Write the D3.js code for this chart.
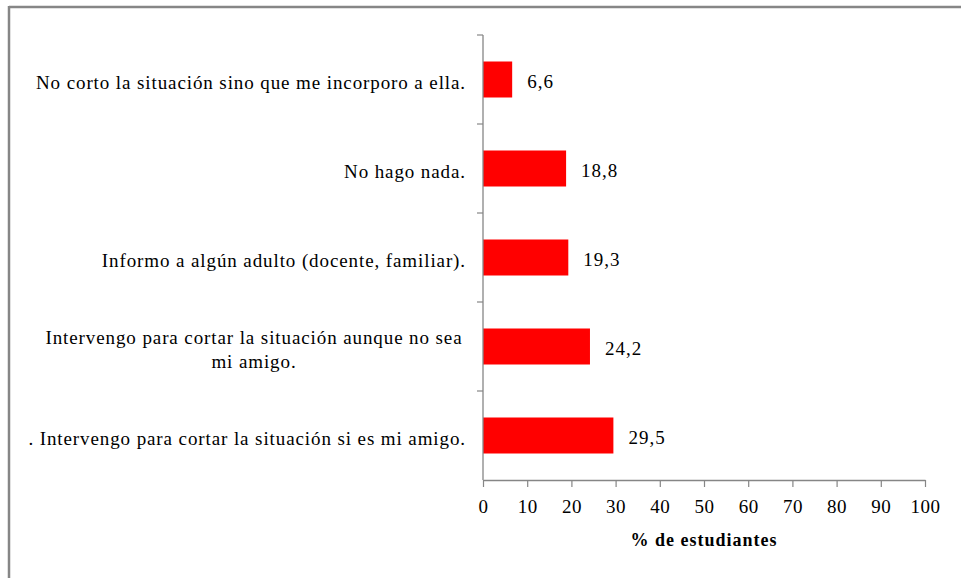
<!DOCTYPE html>
<html>
<head>
<meta charset="utf-8">
<script src="https://cdn.jsdelivr.net/npm/d3@7"></script>
<style>
  body { margin: 0; background: #fff; }
</style>
</head>
<body>
<div id="chart"></div>
<script>
// data (top to bottom)
var categories = [
    ["No corto la situación sino que me incorporo a ella."],
    ["No hago nada."],
    ["Informo a algún adulto (docente, familiar)."],
    ["Intervengo para cortar la situación aunque no sea", "mi amigo."],
    [". Intervengo para cortar la situación si es mi amigo."]
];
var values = [6.6, 18.8, 19.3, 24.2, 29.5];
var xTicks = [0, 10, 20, 30, 40, 50, 60, 70, 80, 90, 100];
var xTitle = "% de estudiantes";

var W = 961, H = 578;
var margin = {top: 35, right: 36, bottom: 98, left: 483};
var serif = "'Liberation Serif', 'Times New Roman', serif";

var svg = d3.select("#chart").append("svg")
    .attr("width", W)
    .attr("height", H);

// outer frame (only top and left edges visible)
svg.append("line").attr("x1", 9).attr("x2", W).attr("y1", 7).attr("y2", 7)
    .attr("stroke", "#868686").attr("stroke-width", 2.5);
svg.append("line").attr("x1", 9).attr("x2", 9).attr("y1", 6).attr("y2", H)
    .attr("stroke", "#868686").attr("stroke-width", 2.5);

var x = d3.scaleLinear().domain([0, 100]).range([margin.left, W - margin.right]);
var y = d3.scaleBand().domain(d3.range(values.length))
    .range([margin.top, H - margin.bottom]);
var barH = 36;

// bars
svg.selectAll("rect.bar")
    .data(values)
    .enter().append("rect")
    .attr("class", "bar")
    .attr("x", x(0))
    .attr("y", function(d, i) { return y(i) + y.bandwidth() / 2 - barH / 2; })
    .attr("width", function(d) { return x(d) - x(0); })
    .attr("height", barH)
    .attr("fill", "#ff0000");

// value labels
svg.selectAll("text.val")
    .data(values)
    .enter().append("text")
    .attr("class", "val")
    .attr("x", function(d) { return x(d) + 15; })
    .attr("y", function(d, i) { return y(i) + y.bandwidth() / 2 + 2; })
    .attr("dy", "0.35em")
    .style("font-family", serif)
    .style("font-size", "19px")
    .style("letter-spacing", "1px")
    .attr("fill", "#000")
    .text(function(d) { return d3.format(".1f")(d).replace(".", ","); });

// x axis
var xAxis = svg.append("g")
    .attr("transform", "translate(0," + (H - margin.bottom) + ")")
    .call(d3.axisBottom(x).tickValues(xTicks).tickSize(7).tickSizeOuter(0).tickPadding(13));
xAxis.select(".domain").attr("stroke", "#868686").attr("stroke-width", 1.3);
xAxis.selectAll(".tick line").attr("stroke", "#868686").attr("stroke-width", 1.2);
xAxis.selectAll(".tick text")
    .style("font-family", serif)
    .style("font-size", "19px")
    .style("letter-spacing", "0.5px")
    .attr("fill", "#000");

// y axis: band boundary ticks
var yAxisG = svg.append("g");
yAxisG.append("line")
    .attr("x1", x(0)).attr("x2", x(0))
    .attr("y1", margin.top).attr("y2", H - margin.bottom)
    .attr("stroke", "#868686").attr("stroke-width", 1.3);
var bounds = d3.range(values.length).map(function(i) { return y(i); });
yAxisG.selectAll("line.tk")
    .data(bounds)
    .enter().append("line")
    .attr("class", "tk")
    .attr("x1", x(0) - 6).attr("x2", x(0))
    .attr("y1", function(d) { return d; }).attr("y2", function(d) { return d; })
    .attr("stroke", "#868686").attr("stroke-width", 1.2);

// category labels
var lineH = 24;
var labels = svg.selectAll("text.cat")
    .data(categories)
    .enter().append("text")
    .attr("class", "cat")
    .attr("text-anchor", function(d) { return d.length > 1 ? "middle" : "end"; })
    .attr("x", function(d) { return d.length > 1 ? 254 : 466; })
    .attr("y", function(d, i) {
        return y(i) + y.bandwidth() / 2 + 3 - (d.length - 1) * lineH / 2;
    })
    .style("font-family", serif)
    .style("font-size", "19px")
    .style("letter-spacing", "0.9px")
    .attr("fill", "#000");
labels.selectAll("tspan")
    .data(function(d) { return d; })
    .enter().append("tspan")
    .attr("x", function() { return d3.select(this.parentNode).attr("x"); })
    .attr("dy", function(d, j) { return j === 0 ? "0.35em" : lineH; })
    .text(function(d) { return d; });

// x title
svg.append("text")
    .attr("x", x(50))
    .attr("y", 546)
    .attr("text-anchor", "middle")
    .style("font-family", serif)
    .style("font-size", "18px")
    .style("font-weight", "bold")
    .style("letter-spacing", "1px")
    .attr("fill", "#000")
    .text(xTitle);
</script>
</body>
</html>
